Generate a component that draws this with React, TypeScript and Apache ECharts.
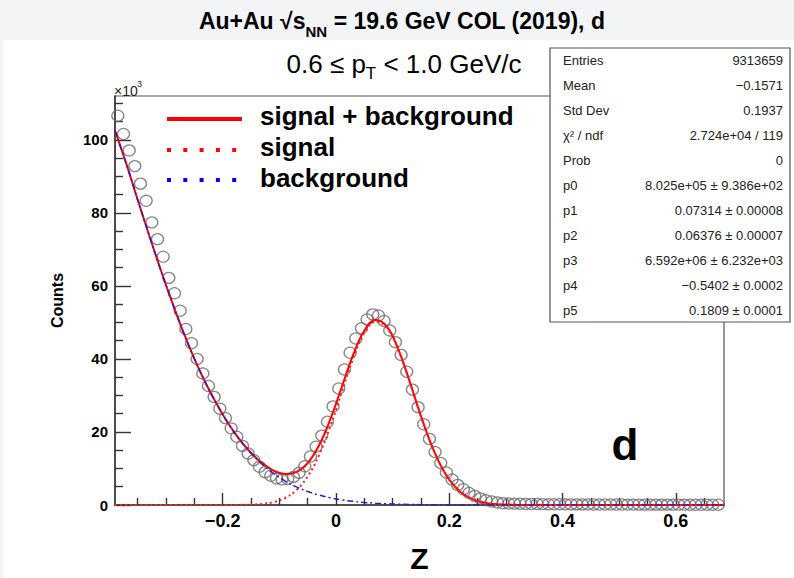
import React, { useEffect, useRef } from "react";
import * as echarts from "echarts";

const FONT = "'Liberation Sans', Arial, Helvetica, sans-serif";

// Histogram binning along z
const Z_MIN = -0.39;
const Z_MAX = 0.685;
const BIN_WIDTH = 0.01;

// Bin contents in units of 10^3 counts, first bin starts at Z_MIN
const countsK = [
  106.6, 101.6, 97.1, 92.8, 88.0, 83.3, 77.4, 72.8, 68.0, 62.2,
  58.0, 53.2, 48.2, 44.3, 40.0, 36.0, 32.6, 29.6, 26.4, 23.8,
  21.0, 18.7, 16.2, 14.1, 12.3, 10.5, 9.0, 8.0, 7.3, 7.0,
  7.1, 7.7, 8.8, 10.6, 13.3, 16.0, 19.0, 22.8, 27.0, 31.9,
  37.1, 41.7, 45.6, 48.4, 50.8, 52.2, 51.9, 50.4, 47.8, 44.6,
  41.1, 36.5, 31.6, 26.8, 22.1, 18.1, 14.5, 11.5, 8.9, 7.0,
  5.5, 4.3, 3.3, 2.5, 1.8, 1.3, 0.95, 0.7, 0.5,
  0.42, 0.37, 0.33, 0.3, 0.27, 0.26, 0.24, 0.22, 0.21, 0.2,
  0.19, 0.18, 0.17, 0.17, 0.16, 0.15, 0.15, 0.14, 0.14, 0.13,
  0.13, 0.12, 0.12, 0.11, 0.11, 0.11, 0.1, 0.1, 0.1, 0.09,
  0.09, 0.09, 0.08, 0.08, 0.08, 0.07, 0.07, 0.07,
];

// Fit curves (×10^3), read at these z positions
const fitZ = [
  -0.39, -0.37, -0.35, -0.33, -0.31, -0.29, -0.27, -0.25, -0.23, -0.21,
  -0.19, -0.17, -0.15, -0.13, -0.11, -0.09, -0.07, -0.05, -0.03, -0.01,
  0.01, 0.03, 0.05, 0.07, 0.09, 0.11, 0.13, 0.15, 0.17, 0.19,
  0.21, 0.23, 0.25, 0.27, 0.29, 0.31, 0.33, 0.35, 0.39, 0.45,
  0.55, 0.685,
];
const totalK = [
  102.5, 93.4, 83.6, 74.0, 64.7, 55.9, 47.6, 40.1, 33.4, 27.5,
  22.31, 17.93, 14.31, 11.41, 9.42, 8.48, 9.0, 11.47, 16.29, 23.44,
  32.17, 40.95, 47.72, 50.64, 48.82, 42.71, 33.88, 24.38, 15.91, 9.4,
  5.04, 2.46, 1.08, 0.44, 0.15, 0.05, 0.02, 0, 0, 0,
  0, 0,
];
const signalK = [
  0, 0, 0, 0, 0, 0, 0, 0, 0, 0,
  0.01, 0.03, 0.11, 0.31, 0.81, 1.9, 4.04, 7.78, 13.57, 21.46,
  30.75, 39.94, 47.01, 50.15, 48.48, 42.48, 33.73, 24.28, 15.84, 9.36,
  5.01, 2.44, 1.07, 0.43, 0.15, 0.05, 0.02, 0, 0, 0,
  0, 0,
];
const backgroundK = [
  102.5, 93.4, 83.6, 74.0, 64.7, 55.9, 47.6, 40.1, 33.4, 27.5,
  22.3, 17.9, 14.2, 11.1, 8.61, 6.58, 4.96, 3.69, 2.72, 1.98,
  1.42, 1.01, 0.71, 0.49, 0.34, 0.23, 0.15, 0.1, 0.07, 0.04,
  0.03, 0.02, 0.01, 0.01, 0, 0, 0, 0, 0, 0,
  0, 0,
];

// Axis ticks
const xMajorTicks = [-0.2, 0, 0.2, 0.4, 0.6];
const xMinorTicks = [-0.35, -0.3, -0.25, -0.15, -0.1, -0.05, 0.05, 0.1, 0.15, 0.25, 0.3, 0.35, 0.45, 0.5, 0.55, 0.65];
const yMajorTicks = [0, 20, 40, 60, 80, 100];
const yMinorTicks = [5, 10, 15, 25, 30, 35, 45, 50, 55, 65, 70, 75, 85, 90, 95, 105, 110];
const Y_MAX = 112;

// Statistics box
const statLabels = ["Entries", "Mean", "Std Dev", "χ² / ndf", "Prob", "p0", "p1", "p2", "p3", "p4", "p5"];
const statValues = [
  "9313659",
  "−0.1571",
  "0.1937",
  "2.724e+04 / 119",
  "0",
  "8.025e+05 ± 9.386e+02",
  "0.07314 ± 0.00008",
  "0.06376 ± 0.00007",
  "6.592e+06 ± 6.232e+03",
  "−0.5402 ± 0.0002",
  "0.1809 ± 0.0001",
];

const legendNames = ["signal + background", "signal", "background"];

function fmtX(v: number): string {
  if (Math.abs(v) < 1e-9) return "0";
  const s = Math.abs(v).toFixed(1);
  return v < 0 ? "−" + s : s;
}

export default function App() {
  const ref = useRef<HTMLDivElement>(null);

  useEffect(() => {
    if (!ref.current) return;
    const chart = echarts.init(ref.current, undefined, { renderer: "svg" });

    const binCenters = countsK.map((_, i) => Z_MIN + (i + 0.5) * BIN_WIDTH);
    const pts = binCenters.map((z, i) => [z, countsK[i]]);
    const tot = fitZ.map((z, i) => [z, totalK[i]]);
    const sig = fitZ.map((z, i) => [z, signalK[i]]);
    const bkg = fitZ.map((z, i) => [z, backgroundK[i]]);

    const axisColor = "#333";
    const tickStyle = { color: axisColor, width: 1.4 };

    const graphics: any[] = [
      {
        type: "rect",
        z: -10,
        silent: true,
        shape: { x: 3, y: 40, width: 791, height: 538 },
        style: { fill: "#ffffff" },
      },
      {
        type: "text",
        x: 402,
        y: 21,
        z: 50,
        style: {
          text: "{m|Au+Au √s}{s|NN}{m| = 19.6 GeV COL (2019), d}",
          align: "center",
          verticalAlign: "middle",
          fill: "#000",
          rich: {
            m: { fontFamily: FONT, fontSize: 23, fontWeight: "bold", lineHeight: 36, verticalAlign: "middle", fill: "#000" },
            s: { fontFamily: FONT, fontSize: 15, fontWeight: "bold", lineHeight: 15, verticalAlign: "bottom", fill: "#000" },
          },
        },
      },
      {
        type: "text",
        x: 404,
        y: 64,
        z: 50,
        style: {
          text: "{m|0.6 ≤ p}{s|T}{m| < 1.0 GeV/c}",
          align: "center",
          verticalAlign: "middle",
          fill: "#000",
          rich: {
            m: { fontFamily: FONT, fontSize: 26, lineHeight: 36, verticalAlign: "middle", fill: "#000" },
            s: { fontFamily: FONT, fontSize: 17, lineHeight: 17, verticalAlign: "bottom", fill: "#000" },
          },
        },
      },
      {
        type: "text",
        x: 114,
        y: 91,
        z: 50,
        style: { text: "×10", fontFamily: FONT, fontSize: 14, fill: "#222", verticalAlign: "middle" },
      },
      {
        type: "text",
        x: 137,
        y: 84,
        z: 50,
        style: { text: "3", fontFamily: FONT, fontSize: 9, fill: "#222", verticalAlign: "middle" },
      },
      // legend
      {
        type: "line",
        z: 50,
        shape: { x1: 167, y1: 119, x2: 242, y2: 119 },
        style: { stroke: "#ff0000", lineWidth: 4 },
      },
      {
        type: "line",
        z: 50,
        shape: { x1: 167, y1: 150, x2: 242, y2: 150 },
        style: { stroke: "#ff0000", lineWidth: 4, lineDash: [4, 12.3] },
      },
      {
        type: "line",
        z: 50,
        shape: { x1: 167, y1: 180, x2: 242, y2: 180 },
        style: { stroke: "#0000ff", lineWidth: 4, lineDash: [4, 12.3] },
      },
      ...legendNames.map((t, i) => ({
        type: "text",
        x: 260,
        y: 116 + i * 31,
        z: 50,
        style: { text: t, fontFamily: FONT, fontSize: 26, fontWeight: "bold", fill: "#000", verticalAlign: "middle" },
      })),
      {
        type: "text",
        x: 625,
        y: 444,
        z: 50,
        style: { text: "d", fontFamily: FONT, fontSize: 44, fontWeight: "bold", fill: "#000", align: "center", verticalAlign: "middle" },
      },
      // stats box
      {
        type: "rect",
        z: 60,
        shape: { x: 550, y: 48, width: 240, height: 274 },
        style: { fill: "#ffffff", stroke: "#555", lineWidth: 1.2 },
      },
      ...statLabels.map((t, i) => ({
        type: "text",
        x: 563,
        y: 60 + i * 25,
        z: 61,
        style: { text: t, fontFamily: FONT, fontSize: 13, fill: "#222", verticalAlign: "middle" },
      })),
      ...statValues.map((t, i) => ({
        type: "text",
        x: 783,
        y: 60 + i * 25,
        z: 61,
        style: { text: t, fontFamily: FONT, fontSize: 13, fill: "#222", align: "right", verticalAlign: "middle" },
      })),
    ];

    const option: any = {
      animation: false,
      backgroundColor: "#f3f4f6",
      grid: {
        left: 115,
        right: 70,
        top: 96,
        bottom: 73,
        show: true,
        borderColor: "#555",
        borderWidth: 1.2,
        backgroundColor: "transparent",
      },
      xAxis: [
        {
          type: "value",
          min: Z_MIN,
          max: Z_MAX,
          position: "bottom",
          name: "Z",
          nameLocation: "middle",
          nameGap: 38,
          nameTextStyle: { fontFamily: FONT, fontSize: 30, fontWeight: "bold", color: "#000" },
          axisLine: { show: true, onZero: false, lineStyle: { color: axisColor, width: 1.5 } },
          axisTick: { show: true, inside: true, length: 12, customValues: xMajorTicks, lineStyle: tickStyle },
          axisLabel: {
            customValues: xMajorTicks,
            formatter: (v: number) => fmtX(v),
            fontFamily: FONT,
            fontSize: 18,
            fontWeight: "bold",
            color: "#000",
            margin: 7,
          },
          splitLine: { show: false },
        },
        {
          type: "value",
          min: Z_MIN,
          max: Z_MAX,
          position: "bottom",
          axisLine: { show: false, onZero: false },
          axisTick: { show: true, inside: true, length: 7, customValues: xMinorTicks, lineStyle: tickStyle },
          axisLabel: { show: false },
          splitLine: { show: false },
        },
      ],
      yAxis: [
        {
          type: "value",
          min: 0,
          max: Y_MAX,
          position: "left",
          name: "Counts",
          nameLocation: "middle",
          nameRotate: 90,
          nameGap: 50,
          nameTextStyle: { fontFamily: FONT, fontSize: 16, fontWeight: "bold", color: "#000" },
          axisLine: { show: true, onZero: false, lineStyle: { color: axisColor, width: 1.5 } },
          axisTick: { show: true, inside: true, length: 16, customValues: yMajorTicks, lineStyle: tickStyle },
          axisLabel: {
            customValues: yMajorTicks,
            fontFamily: FONT,
            fontSize: 15,
            fontWeight: "bold",
            color: "#000",
            margin: 7,
          },
          splitLine: { show: false },
        },
        {
          type: "value",
          min: 0,
          max: Y_MAX,
          position: "left",
          axisLine: { show: false, onZero: false },
          axisTick: { show: true, inside: true, length: 8, customValues: yMinorTicks, lineStyle: tickStyle },
          axisLabel: { show: false },
          splitLine: { show: false },
        },
      ],
      graphic: graphics,
      series: [
        {
          type: "scatter",
          name: "data",
          data: pts,
          symbol: "circle",
          symbolSize: [12, 11],
          clip: false,
          itemStyle: { color: "rgba(0,0,0,0)", borderColor: "#6a6a6a", borderWidth: 1.3 },
          z: 2,
        },
        {
          type: "line",
          name: legendNames[0],
          data: tot,
          showSymbol: false,
          smooth: 0.4,
          lineStyle: { color: "#ff0000", width: 2 },
          z: 3,
        },
        {
          type: "line",
          name: legendNames[1],
          data: sig,
          showSymbol: false,
          smooth: 0.4,
          lineStyle: { color: "#ff2020", width: 2, type: [2, 3] },
          z: 4,
        },
        {
          type: "line",
          name: legendNames[2],
          data: bkg,
          showSymbol: false,
          smooth: 0.4,
          lineStyle: { color: "#2020d0", width: 1.5, type: [6, 3, 2, 3] },
          z: 5,
        },
      ],
    };

    chart.setOption(option);
    return () => {
      chart.dispose();
    };
  }, []);

  return (
    <div style={{ position: "fixed", left: 0, top: 0, width: 794, height: 578 }}>
      <div ref={ref} style={{ width: 794, height: 578 }} />
    </div>
  );
}
